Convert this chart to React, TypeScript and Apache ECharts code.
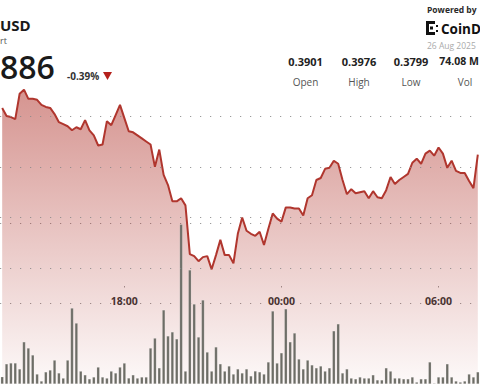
import React, { useEffect, useRef } from "react";
import * as echarts from "echarts";

// 10-minute buckets, starting 13:20
const startMinutes = 13 * 60 + 20;
const barCount = 110;
const times: string[] = [];
for (let i = 0; i < barCount; i++) {
  const m = (startMinutes + i * 10) % (24 * 60);
  const hh = String(Math.floor(m / 60)).padStart(2, "0");
  const mm = String(m % 60).padStart(2, "0");
  times.push(`${hh}:${mm}`);
}

const prices: number[] = [
  0.3958, 0.395, 0.3949, 0.3947, 0.3972, 0.3976, 0.3967, 0.3967, 0.3966, 0.3961,
  0.3959, 0.3958, 0.3952, 0.3944, 0.3942, 0.394, 0.3936, 0.3939, 0.3937, 0.3946,
  0.3936, 0.3931, 0.3921, 0.3922, 0.3945, 0.3941, 0.3951, 0.3961, 0.3948, 0.3935,
  0.3934, 0.3931, 0.3928, 0.3925, 0.3922, 0.39, 0.3917, 0.3892, 0.3882, 0.3866,
  0.3866, 0.3869, 0.3862, 0.3814, 0.3812, 0.3807, 0.3811, 0.3812, 0.3799, 0.3813,
  0.3828, 0.3813, 0.3813, 0.3805, 0.3834, 0.385, 0.3837, 0.3834, 0.3832, 0.3836,
  0.3823, 0.3839, 0.3854, 0.3849, 0.3846, 0.386, 0.386, 0.3859, 0.3859, 0.3852,
  0.3869, 0.3872, 0.3887, 0.3889, 0.3898, 0.3899, 0.3906, 0.3903, 0.3887, 0.3873,
  0.3878, 0.3874, 0.3875, 0.3876, 0.3869, 0.3876, 0.387, 0.3869, 0.3877, 0.389,
  0.3883, 0.3887, 0.389, 0.3893, 0.3904, 0.3908, 0.3903, 0.3913, 0.3916, 0.3911,
  0.3919, 0.3913, 0.3899, 0.3906, 0.3896, 0.3894, 0.3894, 0.3886, 0.3879, 0.3912,
];

// volume per bucket, millions
const volumes: number[] = [
  0.27, 0.75, 0.78, 0.78, 0.56, 1.57, 1.34, 1.08, 0.37, 0.11,
  0.45, 0.52, 0.89, 0.41, 0.22, 0.89, 2.83, 2.27, 0.48, 0.34,
  0.19, 0.26, 0.63, 0.26, 0.22, 0.48, 0.41, 0.63, 0.78, 0.22,
  0.34, 0.22, 0.26, 0.26, 1.34, 1.71, 0.6, 2.76, 1.79, 1.94,
  1.68, 5.95, 0.48, 4.25, 2.98, 1.75, 3.13, 1.19, 0.48, 1.38,
  0.75, 0.48, 0.67, 0.37, 0.56, 0.41, 0.56, 0.3, 0.48, 0.45,
  0.37, 0.82, 2.72, 0.78, 1.16, 2.8, 1.57, 1.9, 0.93, 0.56,
  0.89, 0.71, 0.6, 0.67, 0.48, 0.6, 1.98, 2.24, 0.41, 0.56,
  0.22, 0.19, 0.26, 0.22, 0.22, 0.34, 0.15, 0.15, 0.6, 0.48,
  0.22, 0.22, 0.19, 0.19, 0.26, 0.07, 0.19, 0.19, 0.82, 0.03,
  0.26, 0.26, 0.75, 0.26, 0.11, 0.07, 0.11, 0.37, 0.26, 0.45,
];

const priceGridLevels: number[] = [0.38, 0.385, 0.39, 0.395];

const statValues: string[] = ["0.3901", "0.3976", "0.3799", "74.08 M"];
const statLabels: string[] = ["Open", "High", "Low", "Vol"];

const FONT = "'Open Sans', 'Noto Sans', sans-serif";

export default function App() {
  const ref = useRef<HTMLDivElement>(null);

  useEffect(() => {
    document.body.style.margin = "0";
    if (!ref.current) return;
    const chart = echarts.init(ref.current, undefined, { renderer: "svg" });

    const dotted = { color: "#8a8a8a", width: 1.2, type: [1.2, 8.8] as number[], opacity: 0.85 };
    const statX = [305.5, 359, 411];

    const graphics: any[] = [
      { type: "text", x: 0, y: 24.5, style: { text: "USD", font: `bold 15px ${FONT}`, fill: "#1a1a1a", textAlign: "left", textVerticalAlign: "middle" } },
      { type: "text", x: 0, y: 40, style: { text: "rt", font: `9px ${FONT}`, fill: "#555", textAlign: "left", textVerticalAlign: "middle" } },
      { type: "text", x: 0, y: 66.5, style: { text: "886", font: `600 32px ${FONT}`, fill: "#1a1a1a", textAlign: "left", textVerticalAlign: "middle" } },
      { type: "text", x: 67, y: 75.5, style: { text: "-0.39%", font: `bold 10px ${FONT}`, fill: "#333", textAlign: "left", textVerticalAlign: "middle" } },
      { type: "polygon", shape: { points: [[103, 72], [112, 72], [107.5, 80]] }, style: { fill: "#b5211c" } },
      { type: "text", x: 427, y: 9.5, style: { text: "Powered by", font: `bold 8.5px ${FONT}`, fill: "#2a2a2a", textAlign: "left", textVerticalAlign: "middle" } },
      { type: "rect", shape: { x: 426, y: 21, width: 3, height: 14 }, style: { fill: "#111" } },
      { type: "rect", shape: { x: 426, y: 21, width: 9, height: 3 }, style: { fill: "#111" } },
      { type: "rect", shape: { x: 426, y: 32, width: 9, height: 3 }, style: { fill: "#111" } },
      { type: "rect", shape: { x: 430, y: 26.5, width: 3, height: 3 }, style: { fill: "#111" } },
      { type: "rect", shape: { x: 436, y: 25, width: 2, height: 2 }, style: { fill: "#111" } },
      { type: "rect", shape: { x: 436, y: 30, width: 2, height: 2 }, style: { fill: "#111" } },
      { type: "text", x: 441, y: 28.5, style: { text: "CoinD", font: `bold 13.5px ${FONT}`, fill: "#111", textAlign: "left", textVerticalAlign: "middle" } },
      { type: "text", x: 427, y: 45, style: { text: "26 Aug 2025", font: `8.5px ${FONT}`, fill: "#aaa", textAlign: "left", textVerticalAlign: "middle" } },
    ];
    statValues.forEach((v, i) => {
      if (i < 3) {
        graphics.push({ type: "text", x: statX[i], y: 61, style: { text: v, font: `bold 11px ${FONT}`, fill: "#222", textAlign: "center", textVerticalAlign: "middle" } });
      } else {
        graphics.push({ type: "text", x: 479, y: 61, style: { text: v, font: `bold 10.5px ${FONT}`, fill: "#222", textAlign: "right", textVerticalAlign: "middle" } });
      }
      graphics.push({ type: "text", x: i === 3 ? 465 : statX[i], y: 82, style: { text: statLabels[i], font: `10px ${FONT}`, fill: "#555", textAlign: "center", textVerticalAlign: "middle" } });
    });

    const labelShown = (idx: number, val: string) => {
      const [h, m] = val.split(":").map(Number);
      return m === 0 && h % 6 === 0;
    };

    chart.setOption({
      animation: false,
      backgroundColor: "#ffffff",
      grid: [
        { left: 0, right: 0, top: 65.33, bottom: 0 },
        { left: 0, right: 0, top: 223, height: 161 },
        { left: 0, right: 0, top: 285, height: 1 },
      ],
      xAxis: [
        { type: "category", gridIndex: 0, data: times, boundaryGap: true, show: false },
        { type: "category", gridIndex: 1, data: times, boundaryGap: true, show: false },
        {
          type: "category",
          gridIndex: 2,
          data: times,
          boundaryGap: true,
          axisLine: { show: false },
          axisTick: { show: true, alignWithLabel: true, length: 1.5, interval: labelShown, lineStyle: { color: "#999" } },
          axisLabel: { interval: labelShown, margin: 9, fontSize: 10.5, fontWeight: "bold", color: "#333", fontFamily: FONT },
          splitLine: { show: false },
        },
      ],
      yAxis: [
        { type: "value", gridIndex: 0, min: 0.3686, max: 0.4, show: false, splitLine: { show: false } },
        {
          type: "value",
          gridIndex: 1,
          min: 0,
          max: 6,
          interval: 3,
          axisLine: { show: false },
          axisTick: { show: false },
          axisLabel: { show: false },
          splitLine: { show: true, showMinLine: false, showMaxLine: true, lineStyle: dotted },
        },
        { type: "value", gridIndex: 2, show: false },
      ],
      series: [
        {
          type: "line",
          xAxisIndex: 0,
          yAxisIndex: 0,
          data: prices,
          symbol: "none",
          lineStyle: { color: "#b0362e", width: 2 },
          areaStyle: {
            origin: "start",
            color: new echarts.graphic.LinearGradient(0, 0, 0, 1, [
              { offset: 0, color: "rgba(176,52,44,0.75)" },
              { offset: 1, color: "rgba(176,52,44,0.04)" },
            ]),
          },
          markLine: {
            silent: true,
            precision: 4,
            symbol: ["none", "none"],
            label: { show: false },
            lineStyle: dotted,
            emphasis: { disabled: true },
            data: priceGridLevels.map((v) => ({ yAxis: v })),
          },
          z: 2,
        },
        {
          type: "bar",
          xAxisIndex: 1,
          yAxisIndex: 1,
          data: volumes,
          barWidth: "68%",
          itemStyle: { color: "#6d6d66", borderColor: "rgba(255,255,255,0.35)", borderWidth: 0.5 },
          z: 3,
        },
      ],
      graphic: graphics,
    });

    return () => chart.dispose();
  }, []);

  return <div ref={ref} style={{ width: 480, height: 384 }} />;
}
